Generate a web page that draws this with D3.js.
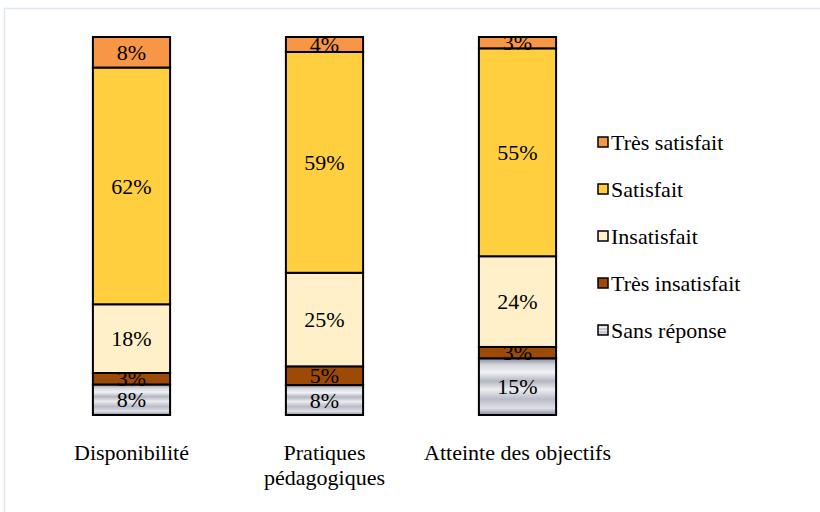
<!DOCTYPE html>
<html>
<head>
<meta charset="utf-8">
<script src="https://cdn.jsdelivr.net/npm/d3@7/dist/d3.min.js"></script>
<style>
body { margin: 0; background: #fff; }
svg text { font-family: "Liberation Serif", "Times New Roman", serif !important; }
</style>
</head>
<body>
<svg id="chart" width="820" height="512"></svg>
<script>
const categories = ["Disponibilité", "Pratiques pédagogiques", "Atteinte des objectifs"];
const categoryLines = [["Disponibilité"], ["Pratiques", "pédagogiques"], ["Atteinte des objectifs"]];
// stacking order bottom -> top
const seriesNames = ["Sans réponse", "Très insatisfait", "Insatisfait", "Satisfait", "Très satisfait"];
const sansReponse     = [8, 8, 15];
const tresInsatisfait = [3, 5, 3];
const insatisfait     = [18, 25, 24];
const satisfait       = [62, 59, 55];
const tresSatisfait   = [8, 4, 3];
const legendOrder = ["Très satisfait", "Satisfait", "Insatisfait", "Très insatisfait", "Sans réponse"];

const seriesValues = [sansReponse, tresInsatisfait, insatisfait, satisfait, tresSatisfait];
const colors = {
  "Sans réponse": "url(#metal)",
  "Très insatisfait": "#9c4a06",
  "Insatisfait": "#fff0c9",
  "Satisfait": "#ffcf40",
  "Très satisfait": "#f79646"
};
const FS = 22;

const svg = d3.select("#chart");
const defs = svg.append("defs");
const g1 = defs.append("linearGradient").attr("id", "metal").attr("x1", 0).attr("y1", 0).attr("x2", 0).attr("y2", 1);
[[0, "#8a8e9e"], [0.12, "#d6d8e0"], [0.25, "#f2f2f5"], [0.4, "#b3b6c2"], [0.55, "#ececf0"], [0.72, "#b9bcc7"], [0.88, "#e0e1e7"], [1, "#868a9a"]]
  .forEach(([o, c]) => g1.append("stop").attr("offset", o).attr("stop-color", c));

// chart border
svg.append("rect").attr("x", 4.5).attr("y", 8.5).attr("width", 830).attr("height", 520)
  .attr("fill", "none").attr("stroke", "#dde8f3").attr("stroke-width", 1.5);

const table = categories.map((c, i) => {
  const row = { category: c };
  seriesNames.forEach((s, j) => row[s] = seriesValues[j][i]);
  return row;
});
const stack = d3.stack().keys(seriesNames).offset(d3.stackOffsetExpand);
const stacked = stack(table);

const x = d3.scaleBand().domain(categories).range([35, 614]).paddingInner(0.6).paddingOuter(0.3);
const y = d3.scaleLinear().domain([0, 1]).range([415, 37]);

const layers = svg.append("g").selectAll("g").data(stacked).join("g")
  .attr("fill", d => colors[d.key]);

layers.selectAll("rect").data(d => d).join("rect")
  .attr("x", d => x(d.data.category))
  .attr("width", x.bandwidth())
  .attr("y", d => y(d[1]))
  .attr("height", d => y(d[0]) - y(d[1]))
  .attr("stroke", "#000").attr("stroke-width", 2);

// labels
const labelG = svg.append("g");
stacked.forEach(layer => {
  layer.forEach((d, i) => {
    labelG.append("text")
      .attr("x", x(d.data.category) + x.bandwidth() / 2)
      .attr("y", (y(d[0]) + y(d[1])) / 2)
      .attr("dy", "0.35em")
      .attr("text-anchor", "middle")
      .attr("font-size", FS)
      .attr("fill", "#000")
      .text(d.data[layer.key] + "%");
  });
});

// x axis
const xAxis = svg.append("g").attr("transform", "translate(0,415)")
  .call(d3.axisBottom(x).tickSize(0).tickFormat(""));
xAxis.select(".domain").remove();
xAxis.selectAll(".tick").each(function(d, i) {
  const t = d3.select(this).append("text")
    .attr("fill", "#000").attr("text-anchor", "middle")
    .attr("font-size", FS)
    .attr("y", 45);
  categoryLines[i].forEach((line, k) => {
    t.append("tspan").attr("x", 0).attr("dy", k === 0 ? 0 : 25).text(line);
  });
});

// legend
const legend = svg.append("g").attr("transform", "translate(598,142)");
legendOrder.forEach((name, i) => {
  const row = legend.append("g").attr("transform", `translate(0,${i * 47})`);
  row.append("rect").attr("x", 0).attr("y", -5).attr("width", 10).attr("height", 10)
    .attr("fill", colors[name]).attr("stroke", "#000").attr("stroke-width", 1.5);
  row.append("text").attr("x", 13).attr("y", 0).attr("dy", "0.35em")
    .attr("font-size", FS).attr("fill", "#000").text(name);
});
</script>
</body>
</html>
